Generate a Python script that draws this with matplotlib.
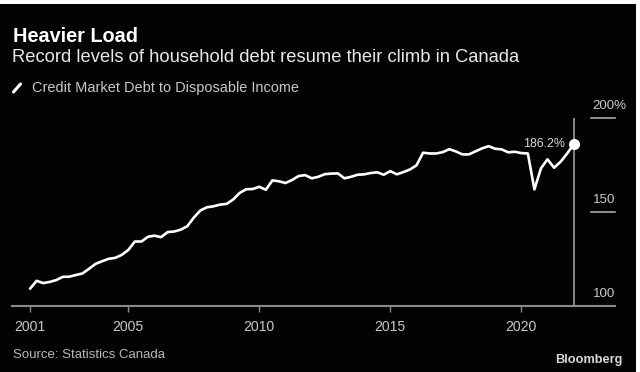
import matplotlib
matplotlib.use("Agg")
import matplotlib.pyplot as plt
import matplotlib.transforms as mtransforms
from matplotlib.patches import Rectangle
from matplotlib.lines import Line2D
import pandas as pd

plt.rcParams['font.family'] = ['Liberation Sans', 'DejaVu Sans']

# ---- data ----
quarters = pd.period_range('2001Q1', '2021Q4', freq='Q')
debt_ratio = [
    109.4, 113.6, 112.4, 113.0, 114.0, 115.7, 115.8, 116.7,
    117.5, 120.0, 122.6, 124.0, 125.3, 125.8, 127.4, 130.0,
    134.5, 134.5, 137.0, 137.6, 136.8, 139.5, 139.8, 140.8,
    142.6, 147.2, 151.0, 152.7, 153.2, 154.1, 154.5, 156.8,
    160.3, 162.3, 162.4, 163.6, 162.0, 167.0, 166.5, 165.6,
    167.2, 169.3, 169.8, 168.1, 168.9, 170.3, 170.6, 170.7,
    168.1, 168.9, 170.0, 170.2, 170.9, 171.3, 170.0, 171.9,
    170.2, 171.4, 172.8, 175.0, 181.7, 181.3, 181.3, 182.0,
    183.6, 182.4, 180.8, 180.8, 182.4, 184.0, 185.2, 183.8,
    183.5, 181.9, 182.2, 181.5, 181.3, 162.2, 173.4, 178.2,
    173.7, 176.9, 181.3, 186.2,
]
xtick_pos = [2001.25, 2005, 2010, 2015, 2020]
xtick_labels = ['2001', '2005', '2010', '2015', '2020']
ytick_vals = [100, 150, 200]
ytick_labels = ['100', '150', '200%']
last_label = '186.2%'

title = 'Heavier Load'
subtitle = 'Record levels of household debt resume their climb in Canada'
legend_label = 'Credit Market Debt to Disposable Income'
source = 'Source: Statistics Canada'

xq = quarters.year + quarters.quarter / 4.0

# ---- figure ----
W, H = 640, 372
fig = plt.figure(figsize=(W / 100, H / 100), dpi=100, facecolor='white')
fig.patches.append(Rectangle((0, 0), 636 / W, 368 / H, transform=fig.transFigure,
                             facecolor='#030303', edgecolor='none', zorder=-10))

ax_left, ax_right, ax_bottom, ax_top = 12, 615, 306.4, 118.3
ax = fig.add_axes([ax_left / W, 1 - ax_bottom / H, (ax_right - ax_left) / W,
                   (ax_bottom - ax_top) / H])
ax.set_facecolor('none')
ax.set_xlim(2000.561, 2023.576)
ax.set_ylim(100, 200)
for s in ax.spines.values():
    s.set_visible(False)

ax.plot(xq, debt_ratio, color='white', lw=1.9, solid_joinstyle='round',
        solid_capstyle='round', clip_on=False, zorder=5)
ax.plot(xq[-1], debt_ratio[-1], 'o', ms=7, color='white', zorder=6, clip_on=False)
ax.vlines(xq[-1], 100, 200, color='#9a9a9a', lw=1.2, zorder=3)
ax.axhline(100, color='#8a8a8a', lw=1.5, clip_on=False, zorder=2)
xfrac = (590.7 - ax_left) / (ax_right - ax_left)
for v in ytick_vals[1:]:
    ax.axhline(v, xmin=xfrac, xmax=1, color='#a8a8a8', lw=1.2, clip_on=False)

trans = mtransforms.blended_transform_factory(ax.transAxes, ax.transData)
ylabs = []
for v, lab in zip(ytick_vals, ytick_labels):
    ylabs.append(ax.text(xfrac + 0.003, v + 6.8, lab, transform=trans, ha='left',
                         va='center', color='#c8c8c8', fontsize=9))

ann = ax.annotate(last_label, (xq[-1], debt_ratio[-1]), xytext=(-6.5, 0.5),
                  textcoords='offset points', ha='right', va='center',
                  color='#d8d8d8', fontsize=9, zorder=7)

ax.set_yticks([])
ax.set_xticks(xtick_pos)
ax.set_xticklabels(xtick_labels)
ax.tick_params(axis='x', direction='out', length=4.1, width=1.0, color='#8a8a8a',
               labelcolor='#c8c8c8', pad=5.5, labelsize=9)


def ftext(x, y, s, **kw):
    return fig.text(x / W, 1 - y / H, s, va='baseline', **kw)


t_title = ftext(12.7, 41.7, title, color='white', fontweight='bold', fontsize=13)
t_sub = ftext(12, 62.3, subtitle, color='#e8e8e8', fontsize=12)
t_leg = ftext(31.7, 92, legend_label, color='#c8c8c8', fontsize=9)
t_src = ftext(12.7, 358.3, source, color='#b8b8b8', fontsize=9)
t_bb = ftext(622.7, 362.7, 'Bloomberg', color='#d8d8d8', fontweight='bold',
             fontsize=10, ha='right')
fig.lines.append(Line2D([13.5 / W, 20.5 / W], [1 - 92 / H, 1 - 84 / H],
                        transform=fig.transFigure, color='white', lw=2.2,
                        solid_capstyle='round'))

renderer = fig.canvas.get_renderer()


def fit(t, target_w):
    w = t.get_window_extent(renderer).width
    t.set_fontsize(t.get_fontsize() * target_w / w)


fit(t_title, 124.6)
fit(t_sub, 509)
fit(t_leg, 266)
fit(t_src, 153.3)
fit(t_bb, 67.7)
fit(ann, 42)
fit(ylabs[1], 22.3)
for t in ylabs:
    t.set_fontsize(ylabs[1].get_fontsize())

fig.canvas.draw()
tl = ax.get_xticklabels()[1]
w = tl.get_window_extent(renderer).width
ax.tick_params(axis='x', labelsize=9 * 31.3 / w)

fig.savefig('out.png', dpi=100, facecolor=fig.get_facecolor())
